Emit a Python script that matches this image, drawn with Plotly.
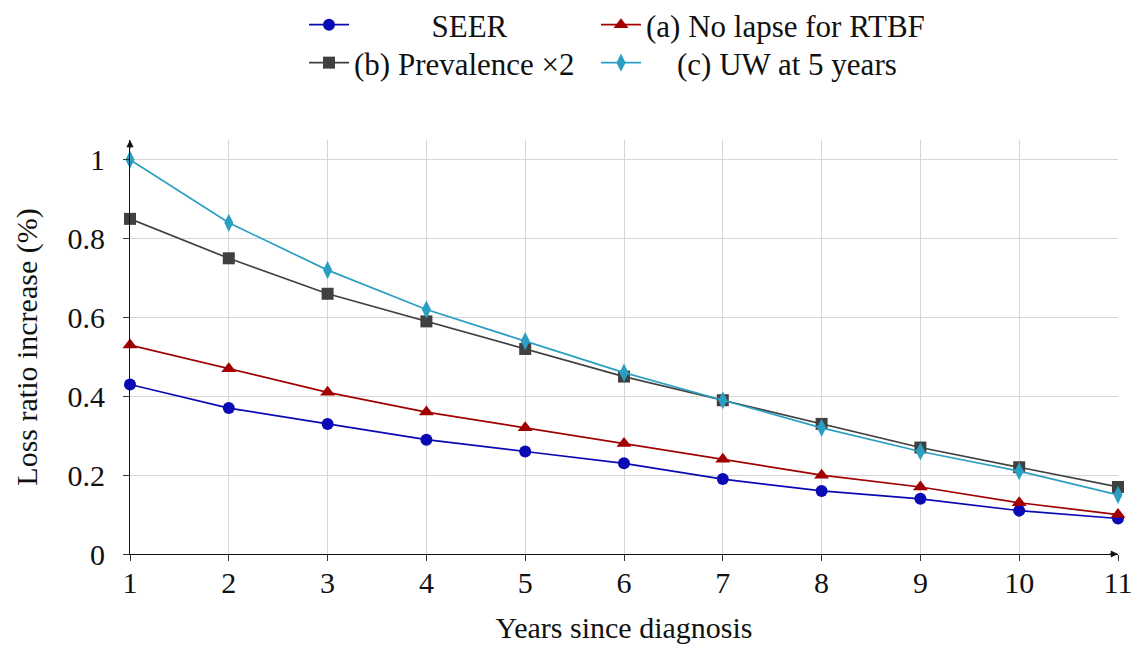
import plotly.graph_objects as go

years = [1, 2, 3, 4, 5, 6, 7, 8, 9, 10, 11]
seer = [0.43, 0.37, 0.33, 0.29, 0.26, 0.23, 0.19, 0.16, 0.14, 0.11, 0.09]
no_lapse = [0.53, 0.47, 0.41, 0.36, 0.32, 0.28, 0.24, 0.20, 0.17, 0.13, 0.10]
prevalence = [0.85, 0.75, 0.66, 0.59, 0.52, 0.45, 0.39, 0.33, 0.27, 0.22, 0.17]
uw5 = [1.00, 0.84, 0.72, 0.62, 0.54, 0.46, 0.39, 0.32, 0.26, 0.21, 0.15]

names = ["SEER", "(a) No lapse for RTBF", "(b) Prevalence \u00d72", "(c) UW at 5 years"]
y_ticks = [0, 0.2, 0.4, 0.6, 0.8, 1]
y_tick_text = ["0", "0.2", "0.4", "0.6", "0.8", "1"]

FONT = "Liberation Serif"
FS = 30
LFS = 31
NB = "\u00a0"

series = [
    (seer, "#0a0ab4", "circle", 12, "legend", NB * 10 + names[0]),
    (no_lapse, "#a00000", "triangle-up", 13, "legend2", names[1]),
    (prevalence, "#404040", "square", 12, "legend3", names[2]),
    (uw5, "#2a9fc2", "diamond-tall", 13, "legend4", NB * 4 + names[3]),
]

fig = go.Figure()
for vals, col, sym, size, lg, label in series:
    fig.add_trace(go.Scatter(
        x=years, y=vals, mode="lines+markers", name=label,
        line=dict(color=col, width=1.7),
        marker=dict(color=col, symbol=sym, size=size, line=dict(width=0)),
        cliponaxis=False, legend=lg, showlegend=True,
    ))

L, R, T, B = 130, 19, 140, 92
W, H = 1137, 646
pw, ph = W - L - R, H - T - B


def px(xp):
    return (xp - L) / pw


def py(yp):
    return (H - B - yp) / ph


leg_common = dict(orientation="h", xanchor="left", yanchor="middle",
                  bgcolor="rgba(0,0,0,0)", font=dict(family=FONT, size=LFS, color="#111"),
                  itemwidth=40, tracegroupgap=0, visible=True)

fig.update_layout(
    width=W, height=H,
    margin=dict(l=L, r=R, t=T, b=B, pad=0, autoexpand=False),
    paper_bgcolor="white", plot_bgcolor="white",
    showlegend=True,
    font=dict(family=FONT, size=FS, color="#111"),
    legend=dict(x=px(304), y=py(25), **leg_common),
    legend2=dict(x=px(596), y=py(25), **leg_common),
    legend3=dict(x=px(304), y=py(63), **leg_common),
    legend4=dict(x=px(596), y=py(63), **leg_common),
    xaxis=dict(
        range=[1, 11], tickvals=years, ticktext=[str(v) for v in years],
        showgrid=True, gridcolor="#d6d6d6", gridwidth=1,
        showline=True, linecolor="#111", linewidth=1.2,
        ticks="outside", ticklen=6, tickcolor="#333", tickwidth=1,
        ticklabelstandoff=-4,
        zeroline=False, tickfont=dict(family=FONT, size=FS), automargin=False,
        title=dict(text="Years since diagnosis", font=dict(family=FONT, size=FS), standoff=18),
    ),
    yaxis=dict(
        range=[0, 1.05], tickvals=y_ticks, ticktext=y_tick_text,
        showgrid=True, gridcolor="#d6d6d6", gridwidth=1,
        showline=True, linecolor="#111", linewidth=1.2,
        ticks="outside", ticklen=6, tickcolor="#333", tickwidth=1,
        ticklabelstandoff=12,
        zeroline=False, tickfont=dict(family=FONT, size=FS), automargin=False,
        title=dict(text="Loss ratio increase (%)", font=dict(family=FONT, size=FS), standoff=20),
    ),
)

# axis arrow heads
fig.add_annotation(x=11, y=0, xref="x", yref="y", ax=-10, ay=0, axref="pixel", ayref="pixel",
                   text="", showarrow=True, arrowhead=2, arrowsize=1.2, arrowwidth=1.2, arrowcolor="#111")
fig.add_annotation(x=1, y=1.05, xref="x", yref="y", ax=0, ay=10, axref="pixel", ayref="pixel",
                   text="", showarrow=True, arrowhead=2, arrowsize=1.2, arrowwidth=1.2, arrowcolor="#111")

fig.write_html("out.html", config={"displayModeBar": False},
               post_script="document.body.style.margin='0px';")
